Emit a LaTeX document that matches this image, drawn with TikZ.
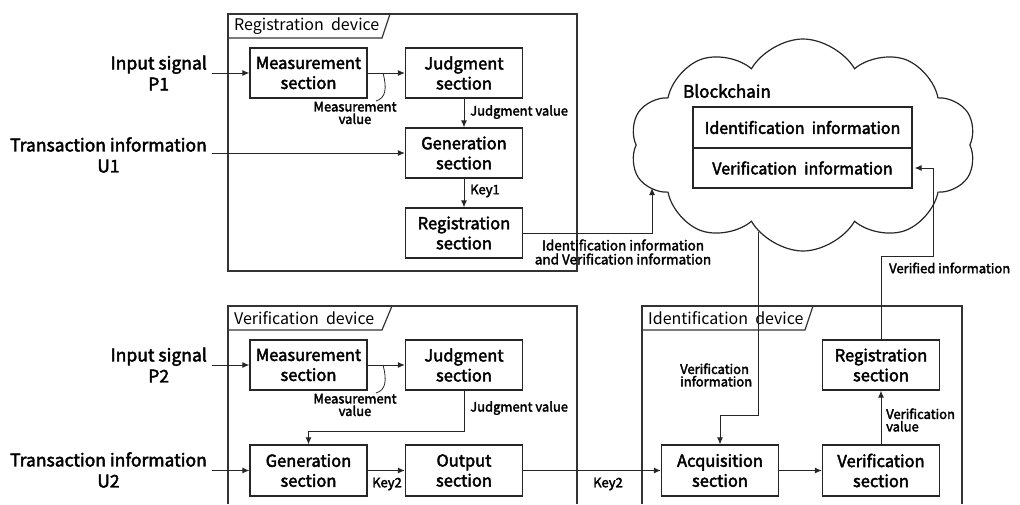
\documentclass[tikz,border=0pt]{standalone}
\usepackage{fontspec}
\setmainfont{Noto Sans CJK JP}
\newfontfamily\mfont{Noto Sans CJK JP}[FakeBold=2.5]
\usetikzlibrary{shapes.symbols,arrows.meta}
\tikzset{
  sbox/.style={draw=black!85,line width=1.3pt,minimum width=117pt,minimum height=50pt,inner sep=0pt,align=center,font=\mfont\fontsize{16.5}{20}\selectfont},
  side/.style={align=center,inner sep=0pt,font=\mfont\fontsize{17.5}{21}\selectfont},
  small/.style={inner sep=0pt,font=\mfont\fontsize{13}{12.5}\selectfont},
  tabtext/.style={inner sep=0pt,anchor=west,font=\fontsize{16}{18}\selectfont},
  frame/.style={draw=black!80,line width=1.2pt},
  conn/.style={draw=black!85,line width=1pt},
  arr/.style={conn,-{Latex[length=7pt,width=6pt]}},
}
\begin{document}
\begin{tikzpicture}[x=1pt,y=-1pt]
\useasboundingbox (0,0) rectangle (1020,504);
% frames
\draw[frame] (228,14) rectangle (577,271);
\draw[frame] (228,38) -- (382,38) -- (390,14);
\node[tabtext] (tabr) at (234,26) {Registration\ \ device};
\draw[frame] (228,504) -- (228,306) -- (577,306) -- (577,504);
\draw[frame] (228,330) -- (382,330) -- (392,306);
\node[tabtext] (tabv) at (234,318) {Verification\ \ device};
\draw[frame] (642,504) -- (642,306) -- (962,306) -- (962,504);
\draw[frame] (642,330) -- (805,330) -- (813,306);
\node[tabtext] (tabi) at (648,318) {Identification\ \ device};
% cloud
\node[cloud,draw=black!85,line width=1.2pt,cloud puffs=10,cloud puff arc=120,aspect=1.6,minimum width=346pt,minimum height=212pt,inner sep=0pt] (cloud) at (803,145) {};
\node[inner sep=0pt,anchor=west,font=\mfont\fontsize{17}{20}\selectfont] (bch) at (683,91) {Blockchain};
\node[draw=black!85,line width=1.2pt,minimum width=219pt,minimum height=41pt,inner sep=0pt,font=\mfont\fontsize{16}{18}\selectfont,fill=white] (bi) at (802.5,127.5) {Identification\ \ information};
\node[draw=black!85,line width=1.2pt,minimum width=219pt,minimum height=40pt,inner sep=0pt,font=\mfont\fontsize{16}{18}\selectfont,fill=white] (bv) at (802.5,168) {Verification\ \ information};
% registration device
\node[sbox] (rm) at (308.5,73) {Measurement\\section};
\node[sbox] (rj) at (464,73) {Judgment\\section};
\node[sbox] (rg) at (464,153) {Generation\\section};
\node[sbox] (rr) at (464,233) {Registration\\section};
\node[side,anchor=east] (lp1) at (207,73) {Input signal\\P1};
\node[side,anchor=east] (lu1) at (207,155) {Transaction information\\U1};
\coordinate (p1) at (212,73);
\coordinate (u1) at (212,153);
\draw[arr] (p1) -- (rm.west);
\draw[arr] (u1) -- (rg.west);
\draw[arr] (rm.east) -- (rj.west);
\draw[arr] (rj.south) -- (rg.north);
\draw[arr] (rg.south) -- (rr.north);
\coordinate (mv1) at (383,73);
\coordinate (mv1e) at (376,101);
\draw[conn,line width=0.8pt] (mv1) .. controls (387,88) and (386,98) .. (mv1e);
\node[small,align=center] (lmv1) at (355,113) {Measurement\\value};
\node[small,anchor=west] (ljv1) at (470,112) {Judgment value};
\node[small,anchor=west] (lk1) at (470,191) {Key1};
\coordinate (bcin) at (652,188);
\draw[arr] (rr.east) -- (652,233) -- (bcin);
\node[small,align=center,font=\mfont\fontsize{13.5}{14}\selectfont] (lidv) at (623,252) {Identification information\\and Verification information};
% verification device
\node[sbox] (vm) at (308.5,365) {Measurement\\section};
\node[sbox] (vj) at (464,365) {Judgment\\section};
\node[sbox,minimum height=51pt] (vg) at (308.5,470.5) {Generation\\section};
\node[sbox,minimum height=51pt] (vo) at (464,470.5) {Output\\section};
\node[side,anchor=east] (lp2) at (207,365) {Input signal\\P2};
\node[side,anchor=east] (lu2) at (207,470) {Transaction information\\U2};
\coordinate (p2) at (212,365);
\coordinate (u2) at (212,470.5);
\draw[arr] (p2) -- (vm.west);
\draw[arr] (u2) -- (vg.west);
\draw[arr] (vm.east) -- (vj.west);
\draw[arr] (vj.south) -- (464,431) -- (308.5,431) -- (vg.north);
\draw[arr] (vg.east) -- (vo.west);
\coordinate (mv2) at (383,365);
\coordinate (mv2e) at (376,393);
\draw[conn,line width=0.8pt] (mv2) .. controls (387,380) and (386,390) .. (mv2e);
\node[small,align=center] (lmv2) at (355,405) {Measurement\\value};
\node[small,anchor=west] (ljv2) at (470,408) {Judgment value};
\node[small] (lk2a) at (387,484) {Key2};
% identification device
\node[sbox,minimum height=51pt] (ia) at (720,470.5) {Acquisition\\section};
\node[sbox,minimum height=51pt] (iv) at (881,470.5) {Verification\\section};
\node[sbox] (ir) at (881,365) {Registration\\section};
\draw[arr] (vo.east) -- (ia.west);
\node[small] (lk2b) at (608,484) {Key2};
\draw[arr] (ia.east) -- (iv.west);
\draw[arr] (iv.north) -- (ir.south);
\node[small,align=left,anchor=west] (lvv) at (886,420) {Verification\\value};
\coordinate (cb) at (758,232);
\draw[arr] (cb) -- (758,415) -- (720,415) -- (ia.north);
\node[small,align=left,anchor=west] (lvi) at (680,375) {Verification\\information};
\draw[arr] (ir.north) -- (881,256) -- (933,256) -- (933,168) -- ([xshift=2pt]bv.east);
\node[small,anchor=west] (lvd) at (889,268) {Verified information};
\end{tikzpicture}
\end{document}
